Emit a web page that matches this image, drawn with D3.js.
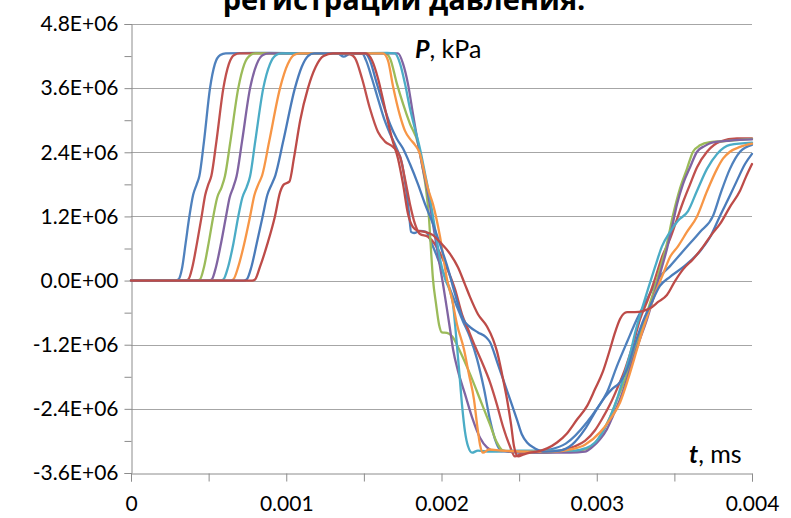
<!DOCTYPE html>
<html><head><meta charset="utf-8">
<script src="https://cdn.jsdelivr.net/npm/d3@7"></script>
<style>body{margin:0;background:#fff}svg{display:block}</style>
</head><body><svg id="c" width="791" height="518"></svg>
<script>
// ---- data (t in ms, P in units of 1E+06) ----
const xTickValues = [0, 1, 2, 3, 4];
const xTickLabels = ["0", "0.001", "0.002", "0.003", "0.004"];
const xMinorValues = [0, 0.5, 1, 1.5, 2, 2.5, 3, 3.5, 4];
const yTickValues = [-3.6, -2.4, -1.2, 0, 1.2, 2.4, 3.6, 4.8];
const yTickLabels = ["-3.6E+06", "-2.4E+06", "-1.2E+06", "0.0E+00", "1.2E+06", "2.4E+06", "3.6E+06", "4.8E+06"];
const yMinorValues = [-3.0, -1.8, -0.6, 0.6, 1.8, 3.0, 4.2];
const titleText = "регистрации давления.";
const seriesColors = ["#4F81BD", "#C0504D", "#9BBB59", "#8064A2", "#4BACC6", "#F79646", "#4A7BBA", "#BD4B48"];

const s1 = [[0,0],[0.28,0],[0.305,0.02],[0.33,0.25],[0.352,0.7],[0.376,1.2],[0.40,1.6],[0.423,1.8],[0.44,1.95],[0.47,2.6],[0.509,3.6],[0.54,4.05],[0.575,4.22],[0.61,4.25],[0.9,4.26],[1.2,4.25],[1.33,4.25],[1.37,4.19],[1.41,4.24],[1.488,4.25],[1.514,4.12],[1.552,3.78],[1.591,3.40],[1.630,3.03],[1.668,2.75],[1.707,2.50],[1.746,2.18],[1.771,1.72],[1.791,1.25],[1.804,0.91],[1.823,0.89],[1.861,0.93],[1.900,0.91],[1.939,0.68],[1.990,0.31],[2.042,-0.07],[2.093,-0.44],[2.138,-0.76],[2.184,-1.06],[2.229,-1.47],[2.274,-2.03],[2.312,-2.60],[2.345,-2.97],[2.377,-3.16],[2.428,-3.20],[2.506,-3.22],[2.602,-3.20],[2.70,-3.16],[2.80,-3.05],[2.937,-2.65],[3.00,-2.40],[3.066,-2.09],[3.130,-1.60],[3.195,-1.15],[3.259,-0.72],[3.324,-0.35],[3.40,0.05],[3.472,0.27],[3.568,0.59],[3.665,0.91],[3.749,1.21],[3.80,1.65],[3.858,2.09],[3.923,2.41],[4.0,2.54]];
const s2 = [[0,0],[0.35,0],[0.369,0.02],[0.395,0.25],[0.425,0.7],[0.455,1.2],[0.478,1.6],[0.498,1.8],[0.517,1.95],[0.55,2.6],[0.595,3.6],[0.63,4.05],[0.665,4.22],[0.70,4.25],[1.0,4.25],[1.30,4.25],[1.411,4.23],[1.443,4.16],[1.488,3.78],[1.539,3.22],[1.591,2.78],[1.636,2.60],[1.688,2.50],[1.733,2.32],[1.765,1.90],[1.797,1.43],[1.829,1.06],[1.861,0.87],[1.913,0.82],[1.958,0.68],[2.023,0.31],[2.087,-0.16],[2.132,-0.63],[2.171,-0.91],[2.216,-1.23],[2.267,-1.57],[2.312,-1.90],[2.357,-2.32],[2.396,-2.73],[2.441,-3.10],[2.473,-3.29],[2.506,-3.25],[2.551,-3.20],[2.634,-3.22],[2.731,-3.20],[2.796,-3.16],[2.860,-3.10],[2.924,-3.00],[2.989,-2.80],[3.040,-2.56],[3.085,-2.32],[3.130,-2.03],[3.182,-1.66],[3.234,-1.19],[3.279,-0.72],[3.330,-0.35],[3.375,0.03],[3.420,0.44],[3.472,0.78],[3.517,1.15],[3.556,1.47],[3.601,1.80],[3.646,2.12],[3.710,2.41],[3.794,2.60],[3.903,2.66],[4.0,2.66]];
const s3 = [[0,0],[0.42,0],[0.444,0.02],[0.47,0.25],[0.50,0.7],[0.530,1.2],[0.555,1.55],[0.584,1.75],[0.605,1.95],[0.64,2.6],[0.691,3.6],[0.73,4.05],[0.77,4.22],[0.80,4.25],[1.2,4.25],[1.55,4.25],[1.636,4.25],[1.668,4.16],[1.713,3.68],[1.752,3.31],[1.797,2.93],[1.849,2.56],[1.874,2.18],[1.900,1.72],[1.920,1.15],[1.932,0.59],[1.945,0.03],[1.965,-0.44],[1.984,-0.82],[2.003,-0.97],[2.035,-0.98],[2.068,-1.04],[2.119,-1.32],[2.184,-1.75],[2.248,-2.22],[2.312,-2.69],[2.357,-3.03],[2.396,-3.18],[2.506,-3.20],[2.634,-3.22],[2.763,-3.20],[2.892,-3.18],[2.957,-3.12],[3.008,-2.97],[3.053,-2.75],[3.098,-2.47],[3.137,-2.18],[3.182,-1.85],[3.227,-1.47],[3.279,-1.00],[3.324,-0.59],[3.362,-0.25],[3.407,0.22],[3.452,0.69],[3.491,1.22],[3.536,1.72],[3.581,2.09],[3.620,2.41],[3.665,2.53],[3.729,2.59],[3.826,2.61],[4.0,2.65]];
const s4 = [[0,0],[0.50,0],[0.520,0.02],[0.547,0.25],[0.58,0.7],[0.612,1.2],[0.635,1.55],[0.659,1.75],[0.68,1.95],[0.715,2.6],[0.767,3.6],[0.81,4.05],[0.85,4.22],[0.89,4.25],[1.3,4.25],[1.65,4.25],[1.720,4.25],[1.752,4.06],[1.784,3.68],[1.816,3.12],[1.849,2.56],[1.874,2.18],[1.913,1.62],[1.945,1.06],[1.977,0.49],[2.010,-0.07],[2.035,-0.53],[2.055,-0.91],[2.074,-1.28],[2.106,-1.69],[2.151,-2.12],[2.197,-2.56],[2.248,-2.94],[2.293,-3.12],[2.332,-3.18],[2.441,-3.20],[2.634,-3.22],[2.828,-3.22],[2.924,-3.20],[2.969,-3.12],[3.021,-2.97],[3.066,-2.78],[3.105,-2.53],[3.150,-2.22],[3.195,-1.84],[3.234,-1.47],[3.279,-1.09],[3.324,-0.72],[3.362,-0.35],[3.407,0.12],[3.452,0.59],[3.485,1.00],[3.517,1.43],[3.556,1.81],[3.601,2.12],[3.646,2.41],[3.697,2.52],[3.742,2.58],[3.858,2.62],[4.0,2.64]];
const s5 = [[0,0],[0.575,0],[0.595,0.02],[0.625,0.25],[0.66,0.7],[0.691,1.2],[0.717,1.55],[0.745,1.75],[0.767,1.95],[0.80,2.6],[0.852,3.6],[0.895,4.05],[0.935,4.22],[0.97,4.25],[1.3,4.25],[1.65,4.26],[1.700,4.25],[1.733,4.06],[1.765,3.68],[1.797,3.22],[1.829,2.84],[1.861,2.47],[1.894,2.00],[1.926,1.53],[1.958,0.97],[1.990,0.41],[2.023,0.03],[2.055,-0.20],[2.074,-0.44],[2.093,-1.00],[2.113,-1.66],[2.132,-2.32],[2.151,-2.82],[2.171,-3.10],[2.197,-3.22],[2.235,-3.18],[2.312,-3.20],[2.506,-3.18],[2.699,-3.18],[2.860,-3.18],[2.924,-3.14],[2.989,-3.03],[3.040,-2.82],[3.085,-2.56],[3.130,-2.22],[3.169,-1.84],[3.214,-1.38],[3.253,-0.91],[3.291,-0.53],[3.330,-0.16],[3.375,0.25],[3.420,0.64],[3.472,0.91],[3.523,1.12],[3.588,1.30],[3.646,1.68],[3.710,2.09],[3.775,2.37],[3.858,2.54],[4.0,2.58]];
const s6 = [[0,0],[0.64,0],[0.659,0.02],[0.69,0.25],[0.73,0.7],[0.767,1.2],[0.795,1.6],[0.820,1.8],[0.845,1.97],[0.89,2.6],[0.960,3.6],[1.01,4.05],[1.05,4.22],[1.09,4.25],[1.4,4.25],[1.623,4.25],[1.655,4.12],[1.688,3.63],[1.733,3.08],[1.765,2.80],[1.797,2.65],[1.829,2.54],[1.861,2.37],[1.887,2.05],[1.913,1.72],[1.945,1.43],[1.990,0.83],[2.035,0.03],[2.068,-0.35],[2.100,-0.82],[2.145,-1.29],[2.177,-1.76],[2.209,-2.22],[2.229,-2.69],[2.248,-3.07],[2.267,-3.22],[2.306,-3.16],[2.383,-3.18],[2.570,-3.20],[2.731,-3.20],[2.828,-3.16],[2.924,-3.07],[3.021,-2.84],[3.085,-2.60],[3.150,-2.28],[3.201,-1.85],[3.259,-1.29],[3.298,-0.91],[3.330,-0.63],[3.375,-0.25],[3.427,0.12],[3.472,0.44],[3.523,0.64],[3.581,0.91],[3.646,1.20],[3.710,1.67],[3.775,2.09],[3.813,2.28],[3.858,2.41],[3.923,2.50],[4.0,2.56]];
const s7 = [[0,0],[0.725,0],[0.745,0.02],[0.775,0.25],[0.81,0.7],[0.848,1.2],[0.878,1.6],[0.906,1.8],[0.93,1.97],[0.98,2.6],[1.056,3.6],[1.10,4.0],[1.14,4.2],[1.18,4.25],[1.45,4.25],[1.507,4.25],[1.539,4.12],[1.578,3.74],[1.623,3.31],[1.668,2.93],[1.713,2.65],[1.752,2.47],[1.797,2.18],[1.849,1.80],[1.894,1.43],[1.945,1.06],[1.990,0.68],[2.042,0.22],[2.087,-0.25],[2.138,-0.72],[2.184,-0.87],[2.235,-0.97],[2.287,-1.06],[2.312,-1.15],[2.357,-1.51],[2.396,-1.84],[2.441,-2.22],[2.486,-2.60],[2.518,-2.88],[2.551,-3.03],[2.602,-3.14],[2.667,-3.20],[2.763,-3.18],[2.841,-3.07],[2.924,-2.78],[3.002,-2.40],[3.053,-2.18],[3.098,-2.03],[3.150,-1.90],[3.195,-1.66],[3.246,-1.19],[3.298,-0.76],[3.343,-0.48],[3.407,-0.10],[3.472,0.07],[3.556,0.25],[3.665,0.55],[3.729,0.81],[3.794,1.21],[3.858,1.59],[3.903,1.87],[3.955,2.18],[4.0,2.37]];
const s8 = [[0,0],[0.78,0],[0.799,0.02],[0.83,0.25],[0.88,0.7],[0.927,1.2],[0.96,1.65],[0.985,1.8],[1.02,1.85],[1.05,2.3],[1.09,3.0],[1.14,3.6],[1.19,4.0],[1.24,4.2],[1.30,4.25],[1.45,4.25],[1.514,4.25],[1.552,4.12],[1.591,3.78],[1.636,3.22],[1.681,2.66],[1.720,2.28],[1.752,1.81],[1.784,1.25],[1.816,1.00],[1.849,0.93],[1.894,0.91],[1.945,0.85],[1.990,0.72],[2.055,0.50],[2.106,0.25],[2.151,-0.07],[2.184,-0.31],[2.235,-0.63],[2.293,-0.86],[2.332,-1.10],[2.357,-1.32],[2.390,-1.75],[2.422,-2.22],[2.448,-2.69],[2.467,-3.10],[2.493,-3.29],[2.531,-3.25],[2.570,-3.22],[2.615,-3.20],[2.680,-3.14],[2.744,-3.03],[2.808,-2.86],[2.873,-2.60],[2.937,-2.35],[2.989,-2.03],[3.040,-1.70],[3.085,-1.29],[3.118,-0.97],[3.150,-0.72],[3.195,-0.59],[3.246,-0.59],[3.298,-0.57],[3.343,-0.52],[3.395,-0.40],[3.452,-0.27],[3.504,-0.01],[3.556,0.21],[3.620,0.40],[3.684,0.63],[3.742,0.87],[3.794,1.06],[3.858,1.38],[3.923,1.68],[3.961,1.94],[4.0,2.18]];
const allSeries = [s1, s2, s3, s4, s5, s6, s7, s8];

// ---- drawing ----
const plot = {left: 131, right: 752, top: 24, bottom: 473};
const svg = d3.select("#c");
const FONT = "Lato, 'Open Sans', sans-serif";

const x = d3.scaleLinear().domain([0, 4]).range([plot.left, plot.right]);
const y = d3.scaleLinear().domain([-3.6, 4.8]).range([plot.bottom, plot.top]);

// gridlines
svg.append("g").selectAll("line").data(yTickValues.filter(v => v !== -3.6)).join("line")
  .attr("x1", plot.left).attr("x2", plot.right)
  .attr("y1", d => Math.round(y(d)) + 0.5).attr("y2", d => Math.round(y(d)) + 0.5)
  .attr("stroke", "#A6A6A6").attr("stroke-width", 1.2);

// y axis
const yAxis = d3.axisLeft(y).tickValues(yTickValues)
  .tickFormat((d, i) => yTickLabels[i]).tickSize(7).tickPadding(6);
const gy = svg.append("g").attr("transform", `translate(${plot.left + 0.5},0)`).call(yAxis);
gy.select(".domain").attr("stroke", "#8C8C8C");
gy.selectAll(".tick line").attr("stroke", "#8C8C8C");
gy.selectAll(".tick text").attr("font-family", FONT).attr("font-size", 21).attr("fill", "#000");
const yMinor = d3.axisLeft(y).tickValues(yMinorValues).tickFormat("").tickSize(7);
const gym = svg.append("g").attr("transform", `translate(${plot.left + 0.5},0)`).call(yMinor);
gym.select(".domain").remove();
gym.selectAll(".tick line").attr("stroke", "#8C8C8C");

// x axis
const xAxis = d3.axisBottom(x).tickValues(xMinorValues).tickSize(8)
  .tickFormat(d => { const i = xTickValues.indexOf(d); return i >= 0 ? xTickLabels[i] : ""; }).tickPadding(15);
const gx = svg.append("g").attr("transform", `translate(0,${plot.bottom + 0.5})`).call(xAxis);
gx.select(".domain").attr("stroke", "#8C8C8C");
gx.selectAll(".tick line").attr("stroke", "#8C8C8C");
gx.selectAll(".tick text").attr("font-family", FONT).attr("font-size", 21).attr("fill", "#000");

// lines
const line = d3.line().x(d => x(d[0])).y(d => y(d[1])).curve(d3.curveMonotoneX);
svg.append("g").selectAll("path").data(allSeries).join("path")
  .attr("d", line).attr("fill", "none")
  .attr("stroke", (d, i) => seriesColors[i]).attr("stroke-width", 2.3)
  .attr("stroke-linejoin", "round").attr("stroke-linecap", "round");

// title (cut at top, as in the reference)
svg.append("text").attr("x", 404).attr("y", 10).attr("text-anchor", "middle")
  .attr("font-family", "'Open Sans', sans-serif").attr("font-weight", "bold").attr("font-size", 29)
  .attr("fill", "#000").text(titleText);

// axis titles
const pLab = svg.append("text").attr("x", 415).attr("y", 58)
  .attr("font-family", FONT).attr("font-size", 25).attr("fill", "#000");
pLab.append("tspan").attr("font-weight", "bold").attr("font-style", "italic").text("P");
pLab.append("tspan").text(", kPa");
const tLab = svg.append("text").attr("x", 689).attr("y", 463)
  .attr("font-family", FONT).attr("font-size", 25).attr("fill", "#000");
tLab.append("tspan").attr("font-weight", "bold").attr("font-style", "italic").text("t");
tLab.append("tspan").text(", ms");
</script></body></html>
